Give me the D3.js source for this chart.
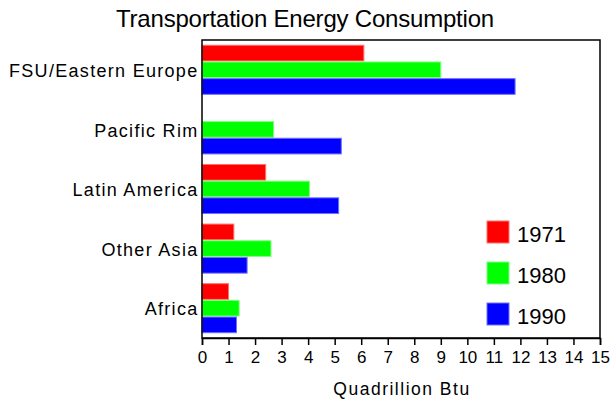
<!DOCTYPE html>
<html>
<head>
<meta charset="utf-8">
<script src="https://cdn.jsdelivr.net/npm/d3@7"></script>
<style>
  body { margin: 0; background: #fff; }
  text { font-family: "Liberation Sans", Arial, sans-serif; fill: #000; }
</style>
</head>
<body>
<div id="chart-area"></div>
<script>
var regions = ["FSU/Eastern Europe", "Pacific Rim", "Latin America", "Other Asia", "Africa"];
var years = ["1971", "1980", "1990"];
var v1971 = [6.1, null, 2.4, 1.2, 1.0];
var v1980 = [9.0, 2.7, 4.05, 2.6, 1.4];
var v1990 = [11.8, 5.25, 5.15, 1.7, 1.3];
var xTicks = d3.range(0, 16);

var margin = { left: 202, right: 13, top: 40, bottom: 62 };
var width = 613 - margin.left - margin.right,
    height = 400 - margin.top - margin.bottom;

var svg = d3.select("#chart-area")
  .append("svg")
    .attr("width", 613)
    .attr("height", 400);

var g = svg.append("g")
  .attr("transform", "translate(" + margin.left + ", " + margin.top + ")");

var data = regions.map(function(r, i) {
  return { region: r, values: [v1971[i], v1980[i], v1990[i]] };
});

var x = d3.scaleLinear().domain([0, 15]).range([0, width]);

var y = d3.scaleBand()
  .domain(regions)
  .range([0, height])
  .paddingInner(0.16)
  .paddingOuter(0.08);

var ySub = d3.scaleBand()
  .domain(years)
  .range([0, y.bandwidth()]);

var color = d3.scaleOrdinal()
  .domain(years)
  .range(["#ff0000", "#00ff00", "#0000ff"]);
var edge = d3.scaleOrdinal()
  .domain(years)
  .range(["#ff7070", "#80ff80", "#7070ff"]);

// title
svg.append("text")
  .attr("x", 305)
  .attr("y", 27)
  .attr("text-anchor", "middle")
  .attr("font-size", "24px")
  .attr("letter-spacing", "-0.2px")
  .text("Transportation Energy Consumption");

// bars
var groups = g.selectAll(".grp")
  .data(data)
  .enter().append("g")
    .attr("class", "grp")
    .attr("transform", function(d) { return "translate(0," + y(d.region) + ")"; });

groups.selectAll("rect")
  .data(function(d) {
    return d.values.map(function(v, i) { return { year: years[i], value: v }; })
      .filter(function(e) { return e.value != null; });
  })
  .enter().append("rect")
    .attr("x", x(0))
    .attr("y", function(d) { return ySub(d.year) + 0.5; })
    .attr("width", function(d) { return x(d.value) - x(0); })
    .attr("height", ySub.bandwidth() - 1)
    .attr("fill", function(d) { return color(d.year); })
    .attr("stroke", function(d) { return edge(d.year); })
    .attr("stroke-width", 1);

// frame
g.append("rect")
  .attr("x", 0).attr("y", 0)
  .attr("width", width).attr("height", height)
  .attr("fill", "none")
  .attr("stroke", "#000")
  .attr("stroke-width", 1.5);

// x axis
var xAxis = g.append("g")
  .attr("transform", "translate(0," + height + ")")
  .call(d3.axisBottom(x).tickValues(xTicks).tickSize(7).tickPadding(6).tickFormat(d3.format("d")));
xAxis.select(".domain").attr("stroke-width", 1.5);
xAxis.selectAll("line").attr("stroke-width", 1.5);
xAxis.selectAll("text")
  .attr("font-size", "17px")
  .attr("font-family", "Liberation Sans, Arial, sans-serif");

// y labels
g.selectAll(".ylab")
  .data(regions)
  .enter().append("text")
    .attr("class", "ylab")
    .attr("x", -3.5)
    .attr("y", function(d) { return y(d) + y.bandwidth() / 2; })
    .attr("dy", "0.4em")
    .attr("text-anchor", "end")
    .attr("font-size", "18px")
    .attr("letter-spacing", "1.3px")
    .text(function(d) { return d; });

// x label
svg.append("text")
  .attr("x", margin.left + width / 2 + 1)
  .attr("y", 395)
  .attr("text-anchor", "middle")
  .attr("font-size", "17.5px")
  .attr("letter-spacing", "1.5px")
  .text("Quadrillion Btu");

// legend
var legend = svg.selectAll(".legend")
  .data(years)
  .enter().append("g")
    .attr("class", "legend")
    .attr("transform", function(d, i) { return "translate(487," + (221 + i * 41) + ")"; });

legend.append("rect")
  .attr("width", 22)
  .attr("height", 22)
  .attr("fill", function(d) { return color(d); })
  .attr("stroke", function(d) { return edge(d); });

legend.append("text")
  .attr("x", 30)
  .attr("y", 21)
  .attr("font-size", "22px")
  .text(function(d) { return d; });
</script>
</body>
</html>
